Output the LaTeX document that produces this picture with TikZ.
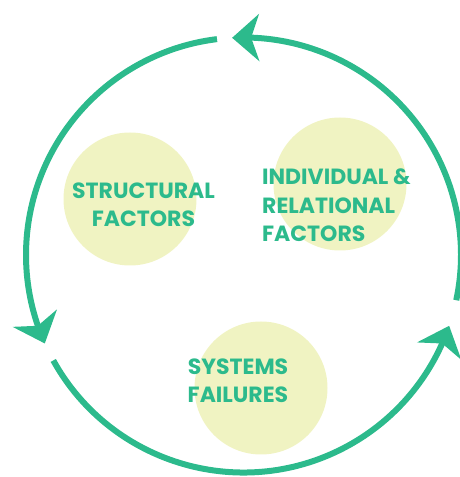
\documentclass[tikz,border=0pt]{standalone}
\usepackage{fontspec}
\newfontfamily\labelfont{Poppins}
\usetikzlibrary{arrows.meta,bending}
\definecolor{cycleteal}{RGB}{44,186,140}
\definecolor{blobyellow}{RGB}{240,243,194}
\begin{document}
\begin{tikzpicture}[x=1pt,y=1pt,
  blob/.style={circle,fill=blobyellow,minimum size=133pt,inner sep=0pt},
  factor/.style={text=cycleteal,font=\labelfont\bfseries\fontsize{22}{28.5}\selectfont,inner sep=0pt},
  cyclearc/.style={draw=cycleteal,line width=6pt,-{Stealth[length=27pt,width=47pt,inset=8pt]}}]
  \useasboundingbox (0,0) rectangle (459,477);
  \coordinate (cyc) at (243.5,222);
  % background circles
  \node[blob] (structblob) at (130,278) {};
  \node[blob] (indivblob) at (340,293) {};
  \node[blob] (sysblob) at (261,89) {};
  % the cycle
  \draw[cyclearc] (cyc) ++(97:217.5) arc[start angle=97, end angle=204, radius=217.5];
  \draw[cyclearc] (cyc) ++(209:217.5) arc[start angle=209, end angle=341, radius=217.5];
  \draw[cyclearc] (cyc) ++(348:217.5) arc[start angle=348, end angle=453, radius=217.5];
  % labels (base = last line)
  \node[factor,align=center,anchor=base] (struct) at (143.5,250) {STRUCTURAL\\FACTORS};
  \node[factor,align=left,anchor=base west] (indiv) at (262,235) {INDIVIDUAL \&\\RELATIONAL\\FACTORS};
  \node[factor,align=center,anchor=base] (sys) at (238,74) {SYSTEMS\\FAILURES};
\end{tikzpicture}
\end{document}
